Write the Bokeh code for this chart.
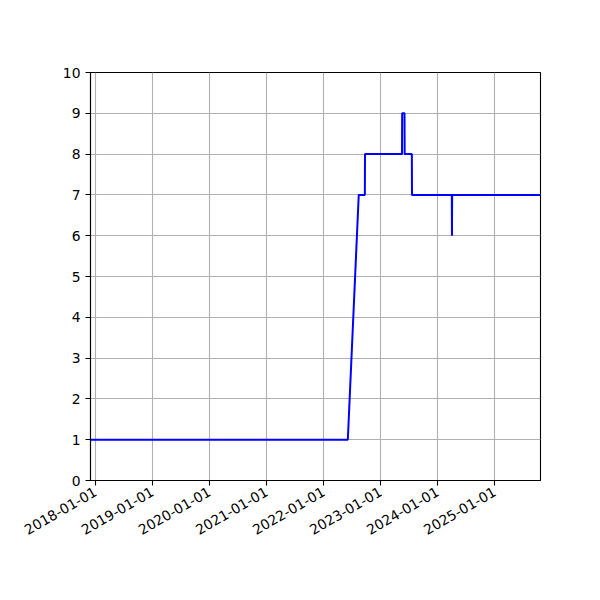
import math
from datetime import datetime
from bokeh.plotting import figure
from bokeh.models import Range1d, FixedTicker, DatetimeTickFormatter
from bokeh.embed import file_html
from bokeh.resources import INLINE

# Data: change points of the series (dates and values)
dates = ["2017-11-30", "2022-06-05", "2022-08-14", "2022-09-22", "2022-09-23",
         "2023-05-18", "2023-05-19", "2023-06-03", "2023-06-04", "2023-07-20",
         "2023-07-21", "2024-04-01", "2024-04-02", "2024-04-03", "2025-10-21"]
values = [1, 1, 7, 7, 8, 8, 9, 9, 8, 8, 7, 7, 6, 7, 7]

x_tick_labels = ["2018-01-01", "2019-01-01", "2020-01-01", "2021-01-01",
                 "2022-01-01", "2023-01-01", "2024-01-01", "2025-01-01"]
y_ticks = [0, 1, 2, 3, 4, 5, 6, 7, 8, 9, 10]

xs = [datetime.strptime(d, "%Y-%m-%d") for d in dates]
epoch = datetime(1970, 1, 1)
def ms(d):
    return (d - epoch).total_seconds() * 1000.0
x_ticks = [ms(datetime.strptime(t, "%Y-%m-%d")) for t in x_tick_labels]

p = figure(x_axis_type="datetime", output_backend="svg", toolbar_location=None,
           frame_width=450, frame_height=408,
           min_border_left=90, min_border_right=50, min_border_top=72, min_border_bottom=110,
           x_range=Range1d(xs[0], xs[-1]), y_range=Range1d(0, 10))

p.line(xs, values, line_color="#0000ff", line_width=2)

p.xaxis.ticker = FixedTicker(ticks=x_ticks)
p.xaxis.formatter = DatetimeTickFormatter(days="%Y-%m-%d", months="%Y-%m-%d", years="%Y-%m-%d")
p.yaxis.ticker = FixedTicker(ticks=y_ticks)
p.xaxis.major_label_orientation = math.pi / 6

for ax in (p.xaxis[0], p.yaxis[0]):
    ax.axis_line_color = "black"
    ax.axis_line_width = 1.1
    ax.major_tick_line_color = "black"
    ax.major_tick_line_width = 1.1
    ax.major_tick_out = 5
    ax.major_tick_in = 0
    ax.minor_tick_line_color = None
    ax.major_label_text_font = "DejaVu Sans"
    ax.major_label_text_font_size = "13.9px"
    ax.major_label_text_color = "black"
    ax.major_label_standoff = 5

p.xgrid.ticker = FixedTicker(ticks=x_ticks)
p.ygrid.ticker = FixedTicker(ticks=y_ticks)
for g in (p.xgrid[0], p.ygrid[0]):
    g.grid_line_color = "#b0b0b0"
    g.grid_line_width = 1.1

p.outline_line_color = "black"
p.outline_line_width = 1.1
p.outline_line_alpha = 1.0
p.background_fill_color = "white"
p.border_fill_color = "white"

open("out.html", "w").write(file_html(p, INLINE))
